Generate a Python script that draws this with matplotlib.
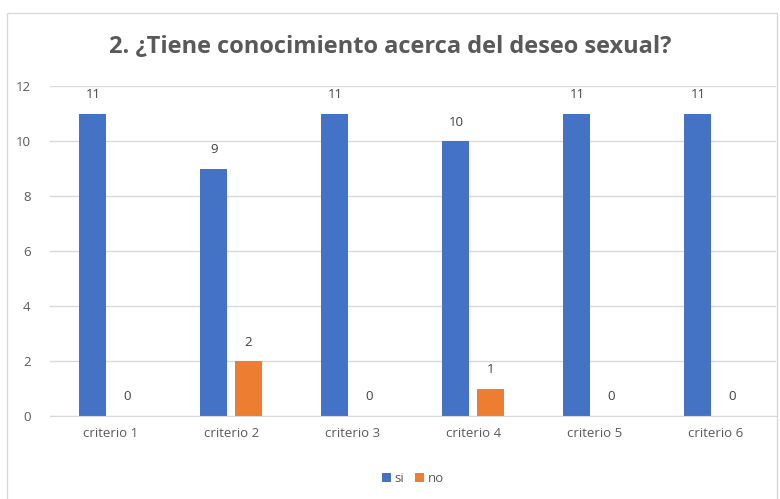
import numpy as np
from matplotlib import pyplot as plt
from matplotlib.patches import Rectangle

categories = ['criterio 1', 'criterio 2', 'criterio 3', 'criterio 4', 'criterio 5', 'criterio 6']
si = [11, 9, 11, 10, 11, 11]
no = [0, 2, 0, 1, 0, 0]

plt.rcParams['font.family'] = ['Open Sans', 'DejaVu Sans']

fig = plt.figure(figsize=(7.8, 4.99), dpi=100)
fig.patches.append(Rectangle((7 / 780, -0.02), 770 / 780, 1 - 13 / 499 + 0.02,
                             transform=fig.transFigure, fill=False,
                             edgecolor='#D9D9D9', linewidth=1))
ax = fig.add_axes([50 / 780, 1 - 416 / 499, 726 / 780, 330 / 499])

x = np.arange(len(categories))
w = 0.223
b1 = ax.bar(x - 0.145, si, w, color='#4472C4', label='si')
b2 = ax.bar(x + 0.14, no, w, color='#ED7D31', label='no')
for bars in (b1, b2):
    for r in bars:
        ax.annotate(str(int(r.get_height())), (r.get_x() + r.get_width() / 2, r.get_height()),
                    xytext=(0, 19), textcoords='offset pixels', ha='center', va='center',
                    fontsize=9.5, color='#404040')

ax.set_xlim(-0.5, len(categories) - 0.5)
ax.set_ylim(0, 12)
ax.set_yticks(range(0, 13, 2))
ax.set_xticks(x)
ax.set_xticklabels(categories)
ax.grid(axis='y', color='#D9D9D9', linewidth=1)
ax.set_axisbelow(True)
for s in ('top', 'right', 'left'):
    ax.spines[s].set_visible(False)
ax.spines['bottom'].set_color('#D9D9D9')
ax.tick_params(length=0, labelsize=9.5, labelcolor='#595959')
ax.tick_params(axis='y', pad=14)
ax.tick_params(axis='x', pad=8)

fig.text(0.5, 1 - 47 / 499, '2. ¿Tiene conocimiento acerca del deseo sexual?',
         ha='center', va='center', fontsize=17, fontweight='bold', color='#595959')
ax.legend(loc='center', bbox_to_anchor=(0.5, -0.19), ncol=2, frameon=False,
          fontsize=9.5, handlelength=0.7, handleheight=0.7, handletextpad=0.3,
          columnspacing=0.8, labelcolor='#595959')

fig.savefig('out.png')
